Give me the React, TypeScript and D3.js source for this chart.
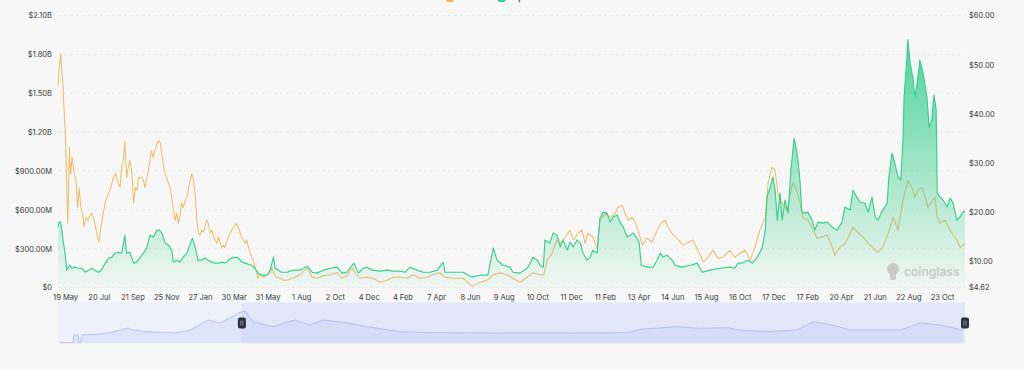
import React, { useRef, useEffect } from "react";
import * as d3 from "d3";

// category axis: one label every 62 days, day 0 = "19 May"
const tickLabels = [
  "19 May", "20 Jul", "21 Sep", "25 Nov", "27 Jan", "30 Mar", "31 May", "1 Aug", "2 Oct",
  "4 Dec", "4 Feb", "7 Apr", "8 Jun", "9 Aug", "10 Oct", "11 Dec", "11 Feb", "13 Apr",
  "14 Jun", "15 Aug", "16 Oct", "17 Dec", "17 Feb", "20 Apr", "21 Jun", "22 Aug", "23 Oct",
];
const tickStep = 62;
const dayRange: [number, number] = [-13, 1654];
const zoomWindow: [number, number] = [325, 1654];

const leftTicks = [0, 300, 600, 900, 1200, 1500, 1800, 2100]; // $M
const rightTicks = [4.62, 10, 20, 30, 40, 50, 60]; // $

const legendItems = [
  { name: "Price", color: "#f0b862" },
  { name: "Open Interest", color: "#35cf8f" },
];

// [day, price in $]
const price: [number, number][] = [
  [-13, 45.7], [-11, 49.1], [-8, 52.2], [-6, 48.7], [-4, 46.1], [-2, 41.2], [0, 37.2], [2, 29.9], [5, 17.7], [8, 33.1],
  [10, 27.8], [13, 31.1], [17, 27.8], [20, 26.4], [23, 20.9], [26, 24.8], [29, 20.9], [32, 19.7], [35, 16.9], [38, 18.9],
  [42, 18.3], [46, 19.3], [50, 19.7], [54, 17.9], [58, 15.9], [62, 13.8], [66, 16.9], [70, 19.7], [75, 22.4], [80, 23.8],
  [84, 25.0], [89, 27.0], [93, 27.8], [97, 26.0], [101, 25.0], [104, 29.1], [107, 30.5], [110, 34.5], [113, 27.0], [116, 29.1],
  [119, 30.5], [123, 27.8], [126, 21.8], [129, 25.0], [132, 24.4], [135, 27.0], [140, 27.0], [144, 26.4], [147, 25.0], [152, 27.8],
  [156, 30.5], [159, 32.5], [162, 31.1], [165, 32.5], [169, 33.9], [171, 34.5], [175, 34.1], [178, 31.9], [181, 29.1], [184, 27.8],
  [187, 27.0], [190, 25.8], [193, 25.0], [196, 23.0], [199, 20.3], [202, 18.3], [205, 19.7], [208, 17.7], [211, 18.9], [214, 21.8],
  [217, 20.9], [221, 22.4], [224, 23.0], [227, 25.0], [230, 26.4], [233, 27.8], [236, 26.4], [239, 23.8], [242, 18.3], [245, 15.7],
  [248, 15.3], [251, 16.3], [254, 15.9], [257, 16.9], [260, 18.3], [263, 17.7], [267, 15.7], [270, 16.3], [273, 14.9], [276, 14.3],
  [279, 13.6], [282, 14.9], [285, 13.8], [288, 12.8], [291, 13.2], [294, 12.8], [297, 13.8], [300, 14.9], [303, 15.7], [306, 16.3],
  [309, 16.7], [312, 17.3], [315, 17.7], [319, 16.7], [322, 15.7], [325, 14.7], [328, 14.3], [331, 13.6], [334, 14.3], [337, 12.8],
  [340, 11.6], [343, 10.8], [346, 10.2], [349, 8.8], [352, 7.6], [354, 6.5], [358, 7.2], [365, 6.7], [371, 7.2], [377, 7.6],
  [380, 8.6], [383, 7.6], [389, 6.7], [395, 6.5], [401, 6.1], [408, 6.1], [419, 6.5], [432, 7.2], [445, 8.6], [454, 6.7],
  [463, 6.5], [474, 7.0], [487, 7.2], [500, 7.6], [509, 6.5], [518, 7.0], [528, 8.6], [533, 7.6], [542, 6.5], [555, 6.7],
  [566, 6.5], [579, 5.7], [592, 6.1], [603, 6.7], [616, 6.7], [629, 6.5], [640, 7.2], [652, 6.5], [665, 6.7], [676, 7.2],
  [689, 7.6], [698, 6.7], [713, 6.5], [732, 6.5], [748, 4.9], [763, 5.7], [776, 6.1], [787, 7.2], [800, 7.6], [812, 7.2],
  [823, 6.5], [836, 5.7], [849, 6.7], [860, 7.6], [873, 7.2], [880, 7.2], [886, 10.2], [895, 11.6], [904, 14.3], [910, 13.6],
  [919, 14.9], [928, 16.3], [934, 14.3], [943, 15.7], [950, 16.3], [956, 13.6], [961, 15.7], [970, 14.9], [978, 12.6], [983, 18.3],
  [993, 19.7], [1002, 18.9], [1011, 19.7], [1016, 20.9], [1024, 21.3], [1029, 19.7], [1035, 18.3], [1042, 18.9], [1048, 17.9], [1053, 16.3],
  [1061, 13.2], [1070, 14.7], [1079, 13.8], [1088, 16.3], [1097, 17.9], [1103, 18.3], [1108, 16.9], [1118, 15.3], [1127, 14.3], [1136, 13.2],
  [1145, 13.8], [1154, 14.3], [1163, 12.2], [1173, 9.8], [1182, 10.8], [1191, 12.2], [1200, 10.6], [1209, 10.8], [1222, 12.2], [1231, 10.8],
  [1241, 11.6], [1250, 12.2], [1259, 10.2], [1268, 12.8], [1277, 16.3], [1287, 18.9], [1292, 25.8], [1299, 29.1], [1305, 28.5], [1311, 23.0],
  [1318, 21.8], [1327, 20.3], [1333, 23.8], [1338, 26.0], [1345, 24.4], [1351, 21.8], [1356, 18.9], [1366, 18.3], [1375, 16.3], [1382, 14.7],
  [1391, 14.9], [1401, 15.3], [1410, 12.8], [1415, 11.2], [1424, 12.8], [1434, 13.6], [1443, 15.7], [1448, 16.9], [1458, 15.7], [1467, 14.9],
  [1476, 13.6], [1485, 12.6], [1494, 11.8], [1503, 12.8], [1513, 15.7], [1522, 18.9], [1531, 16.3], [1540, 22.4], [1549, 26.4], [1557, 24.8],
  [1562, 23.0], [1568, 24.4], [1575, 25.0], [1581, 23.0], [1586, 20.9], [1594, 22.4], [1599, 23.0], [1603, 18.9], [1608, 17.7], [1617, 18.3],
  [1627, 16.3], [1632, 15.3], [1639, 14.3], [1645, 12.8], [1650, 13.2], [1654, 13.6],
];

// [day, open interest in $M]
const openInterest: [number, number][] = [
  [-13, 466], [-11, 505], [-8, 505], [-6, 443], [-3, 343], [0, 265], [3, 134], [6, 157], [9, 172], [12, 149],
  [18, 157], [24, 149], [31, 149], [37, 118], [43, 134], [49, 149], [55, 134], [61, 118], [67, 134], [74, 188],
  [80, 227], [86, 234], [92, 265], [98, 273], [104, 265], [110, 404], [113, 265], [119, 273], [126, 188], [132, 196],
  [138, 234], [144, 265], [150, 304], [156, 404], [162, 389], [169, 443], [173, 443], [178, 420], [184, 343], [190, 327],
  [196, 288], [199, 196], [205, 211], [211, 196], [217, 234], [224, 265], [234, 381], [239, 312], [244, 211], [251, 211],
  [257, 227], [263, 211], [270, 196], [276, 188], [282, 188], [288, 196], [294, 188], [300, 211], [306, 227], [312, 234],
  [319, 227], [325, 196], [331, 188], [337, 180], [343, 172], [349, 149], [355, 111], [362, 95], [371, 95], [377, 134],
  [383, 234], [386, 149], [392, 134], [398, 118], [404, 118], [408, 118], [419, 134], [432, 134], [445, 165], [454, 118],
  [463, 111], [474, 134], [487, 149], [500, 157], [509, 111], [518, 118], [528, 172], [531, 188], [539, 111], [548, 149],
  [555, 157], [564, 134], [579, 126], [592, 134], [603, 126], [616, 126], [625, 118], [634, 157], [647, 134], [658, 118],
  [671, 118], [684, 134], [695, 196], [698, 118], [713, 118], [732, 118], [748, 80], [763, 95], [777, 95], [787, 304],
  [794, 211], [805, 172], [818, 157], [823, 118], [836, 111], [849, 149], [855, 188], [860, 234], [868, 211], [873, 172],
  [879, 157], [882, 366], [891, 343], [897, 420], [904, 404], [910, 312], [915, 366], [923, 288], [928, 350], [934, 312],
  [941, 366], [947, 343], [952, 265], [959, 211], [965, 234], [970, 288], [978, 265], [983, 536], [989, 582], [996, 574],
  [1002, 505], [1007, 544], [1015, 559], [1020, 505], [1026, 466], [1033, 389], [1038, 404], [1044, 420], [1051, 381], [1055, 350],
  [1059, 172], [1070, 157], [1081, 157], [1088, 211], [1094, 265], [1099, 234], [1106, 250], [1116, 211], [1121, 172], [1134, 157],
  [1149, 172], [1162, 188], [1171, 118], [1185, 134], [1204, 149], [1222, 157], [1231, 149], [1237, 188], [1244, 188], [1255, 211],
  [1263, 188], [1272, 234], [1281, 304], [1287, 443], [1290, 698], [1296, 776], [1301, 853], [1305, 752], [1309, 520], [1314, 729],
  [1318, 520], [1323, 675], [1329, 574], [1334, 907], [1340, 1154], [1343, 1085], [1347, 984], [1351, 806], [1354, 582], [1360, 574],
  [1365, 582], [1373, 520], [1378, 443], [1384, 505], [1391, 497], [1401, 505], [1410, 466], [1419, 443], [1428, 505], [1433, 621],
  [1443, 598], [1448, 752], [1456, 690], [1461, 660], [1470, 652], [1476, 582], [1483, 698], [1489, 544], [1494, 520], [1501, 582],
  [1511, 652], [1514, 853], [1520, 1038], [1525, 961], [1531, 853], [1536, 830], [1540, 1139], [1542, 1471], [1547, 1757], [1549, 1912],
  [1553, 1734], [1558, 1626], [1562, 1471], [1567, 1603], [1571, 1757], [1577, 1657], [1584, 1471], [1588, 1239], [1593, 1294], [1597, 1487],
  [1601, 1371], [1603, 729], [1608, 698], [1614, 675], [1621, 621], [1627, 690], [1632, 652], [1639, 520], [1645, 544], [1650, 582],
  [1654, 590],
];

// [day, relative level] shadow series shown in the data-zoom strip
const overview: [number, number][] = [
  [-9, 0.3], [15, 0.3], [16, 8], [24, 8], [25, 0.3], [29, 0.3], [30, 8], [64, 9], [88, 11], [116, 15],
  [125, 13], [151, 11.3], [202, 10], [230, 13], [263, 23], [285, 20], [309, 27], [318, 30], [331, 32.3], [340, 25],
  [346, 21.3], [382, 16.3], [404, 20], [423, 23], [450, 18], [474, 23], [505, 21], [520, 20], [555, 16.3], [616, 11.3],
  [676, 10.3], [800, 10], [910, 10], [1033, 10.3], [1057, 13.7], [1125, 16.3], [1167, 14.7], [1217, 15.3], [1241, 13], [1290, 11.3],
  [1345, 13], [1375, 21.3], [1411, 18], [1443, 13], [1535, 13], [1572, 20], [1608, 18], [1650, 13],
];

const FONT = "Inter, 'Noto Sans', sans-serif";

function fmtLeft(v: number) {
  if (v === 0) return "$0";
  if (v >= 1000) return `$${(v / 1000).toFixed(2)}B`;
  return `$${v.toFixed(2)}M`;
}

export default function App() {
  const ref = useRef<SVGSVGElement>(null);

  useEffect(() => {
    const svg = d3.select(ref.current);
    svg.selectAll("*").remove();

    const left = 58;
    const right = 965;
    const top = 15.5;
    const bottom = 287.5;

    const x = d3.scaleLinear().domain(dayRange).range([left, right]);
    const yL = d3.scaleLinear().domain([0, 2100]).range([bottom, top]);
    const yR = d3.scaleLinear().domain([4.62, 60]).range([bottom, top]);
    const yB = d3.scaleLinear().domain([0, 40]).range([343, 303]);

    // green gradient for open interest area
    const grad = svg
      .append("defs")
      .append("linearGradient")
      .attr("id", "oi-fill")
      .attr("x1", 0)
      .attr("y1", 0)
      .attr("x2", 0)
      .attr("y2", 1);
    grad.append("stop").attr("offset", "0%").attr("stop-color", "#2fcd8b").attr("stop-opacity", 0.85);
    grad.append("stop").attr("offset", "100%").attr("stop-color", "#2fcd8b").attr("stop-opacity", 0.03);

    // grid lines
    svg
      .append("g")
      .selectAll("line")
      .data(leftTicks)
      .enter()
      .append("line")
      .attr("x1", left)
      .attr("x2", right)
      .attr("y1", (d) => yL(d))
      .attr("y2", (d) => yL(d))
      .style("stroke", "#e6e6e6")
      .style("stroke-width", 0.8)
      .style("stroke-dasharray", "3,3");

    // axes
    const styleAxis = (g: any) => {
      g.select(".domain").remove();
      g.selectAll("text").style("font-family", FONT).style("font-size", "7.5px").style("fill", "#3a3a3a");
    };

    svg
      .append("g")
      .attr("transform", `translate(${left},0)`)
      .call(d3.axisLeft(yL).tickValues(leftTicks).tickSize(0).tickPadding(6).tickFormat((d: any) => fmtLeft(d)))
      .call(styleAxis);

    svg
      .append("g")
      .attr("transform", `translate(${right},0)`)
      .call(d3.axisRight(yR).tickValues(rightTicks).tickSize(0).tickPadding(4).tickFormat((d: any) => `$${d.toFixed(2)}`))
      .call(styleAxis);

    svg
      .append("g")
      .attr("transform", `translate(0,${bottom})`)
      .call(
        d3
          .axisBottom(x)
          .tickValues(tickLabels.map((_, i) => i * tickStep))
          .tickSize(0)
          .tickPadding(7)
          .tickFormat((_, i) => tickLabels[i])
      )
      .call(styleAxis);

    // price line (orange)
    svg
      .append("path")
      .datum(price)
      .attr("d", d3.line<[number, number]>().x((d) => x(d[0])).y((d) => yR(d[1])))
      .style("fill", "none")
      .style("stroke", "#f1bc68")
      .style("stroke-width", 1.05)
      .style("stroke-linejoin", "round");

    // open interest area + line (green)
    svg
      .append("path")
      .datum(openInterest)
      .attr("d", d3.area<[number, number]>().x((d) => x(d[0])).y0(yL(0)).y1((d) => yL(d[1])))
      .style("fill", "url(#oi-fill)");

    svg
      .append("path")
      .datum(openInterest)
      .attr("d", d3.line<[number, number]>().x((d) => x(d[0])).y((d) => yL(d[1])))
      .style("fill", "none")
      .style("stroke", "#35cf8f")
      .style("stroke-width", 1.15)
      .style("stroke-linejoin", "round");

    // watermark
    const wm = svg.append("g").style("fill", "#cacaca");
    wm.append("circle").attr("cx", 893).attr("cy", 269).attr("r", 6);
    wm.append("rect").attr("x", 890).attr("y", 272).attr("width", 6).attr("height", 8).attr("rx", 1.5);
    wm.append("text")
      .attr("x", 904)
      .attr("y", 276)
      .text("coinglass")
      .style("font-family", FONT)
      .style("font-size", "12px")
      .style("font-weight", 600);

    // legend (mostly cut off at the top, as in the source screenshot)
    const legend = svg.append("g");
    let lx = 446;
    legendItems.forEach((item) => {
      legend.append("rect").attr("x", lx).attr("y", -6).attr("width", 8).attr("height", 8).attr("rx", 2).style("fill", item.color);
      const t = legend
        .append("text")
        .attr("x", lx + 12)
        .attr("y", 0)
        .text(item.name)
        .style("font-family", FONT)
        .style("font-size", "11px")
        .style("fill", "#444");
      const w = (t.node() as SVGTextElement).getComputedTextLength();
      lx += 12 + w + 13;
    });

    // data zoom strip
    const dz = svg.append("g");
    dz.append("rect")
      .attr("x", x(dayRange[0]))
      .attr("y", 302.5)
      .attr("width", x(dayRange[1]) - x(dayRange[0]))
      .attr("height", 41)
      .style("fill", "#eef1fa");
    dz.append("path")
      .datum(overview)
      .attr("d", d3.area<[number, number]>().x((d) => x(d[0])).y0(yB(0)).y1((d) => yB(d[1])))
      .style("fill", "#cfd9f6")
      .style("fill-opacity", 0.5);
    dz.append("path")
      .datum(overview)
      .attr("d", d3.line<[number, number]>().x((d) => x(d[0])).y((d) => yB(d[1])))
      .style("fill", "none")
      .style("stroke", "#afc1f1")
      .style("stroke-width", 0.9);
    dz.append("rect")
      .attr("x", x(zoomWindow[0]))
      .attr("y", 302.5)
      .attr("width", x(zoomWindow[1]) - x(zoomWindow[0]))
      .attr("height", 41)
      .style("fill", "#92aaee")
      .style("fill-opacity", 0.13);

    zoomWindow.forEach((d) => {
      const hx = x(d);
      dz.append("rect")
        .attr("x", hx - 4)
        .attr("y", 317.5)
        .attr("width", 8)
        .attr("height", 11)
        .attr("rx", 2)
        .style("fill", "#2b2f40");
      [-1, 1].forEach((o) => {
        dz.append("line")
          .attr("x1", hx + o)
          .attr("x2", hx + o)
          .attr("y1", 320.5)
          .attr("y2", 325.5)
          .style("stroke", "#c9cde0")
          .style("stroke-width", 0.6);
      });
    });
  }, []);

  return (
    <svg
      ref={ref}
      width={1024}
      height={370}
      style={{ position: "absolute", left: 0, top: 0, background: "#f7f7f7" }}
    ></svg>
  );
}
